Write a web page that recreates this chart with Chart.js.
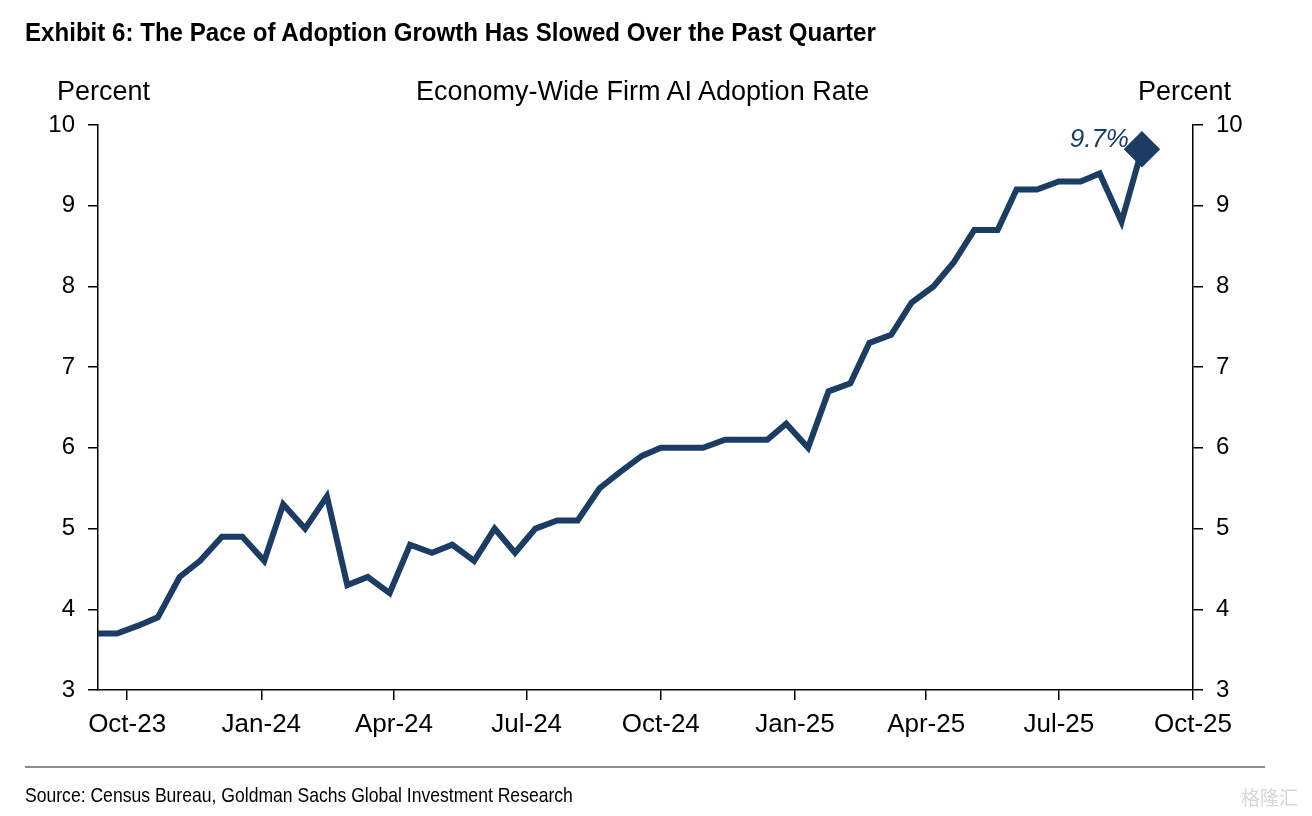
<!DOCTYPE html>
<html>
<head>
<meta charset="utf-8">
<script src="https://cdn.jsdelivr.net/npm/chart.js@4.4.1/dist/chart.umd.min.js"></script>
<style>
  body { margin: 0; background: #fff; }
  #wrap { position: relative; width: 1312px; height: 816px; overflow: hidden; }
  #wrap canvas { position: absolute; left: 0; top: 0; }
  .txt { position: absolute; white-space: nowrap; color: #000; }
  .narrow { font-family: "Liberation Sans", Arial, sans-serif; transform-origin: 0 50%; }
  .plain { font-family: "Liberation Sans", Arial, sans-serif; font-size: 27px; }
  #title { left: 25px; top: 17px; font-size: 26px; font-weight: bold; }
  #source { left: 25px; top: 783px; font-size: 21px; }
  #rule { position: absolute; left: 25px; top: 766px; width: 1240px; height: 2px; background: #8c8c8c; }
  #mark { right: 14px; top: 783px; font-family: "Noto Sans CJK SC", sans-serif; font-size: 19px; color: #d6d6d6; }
</style>
</head>
<body>
<div id="wrap">
  <canvas id="adoptionChart" width="1312" height="816"></canvas>
  <div class="txt narrow" id="title">Exhibit 6: The Pace of Adoption Growth Has Slowed Over the Past Quarter</div>
  <div class="txt plain" style="left:57px; top:76px;">Percent</div>
  <div class="txt plain" style="left:416px; top:76px;">Economy-Wide Firm AI Adoption Rate</div>
  <div class="txt plain" style="left:1138px; top:76px;">Percent</div>
  <div id="rule"></div>
  <div class="txt narrow" id="source">Source: Census Bureau, Goldman Sachs Global Investment Research</div>
  <div class="txt" id="mark">格隆汇</div>
</div>
<script>
// survey dates (roughly biweekly) and adoption rate, percent
var surveyDates = [
  '2023-09-11', '2023-09-24', '2023-10-09', '2023-10-22', '2023-11-06', '2023-11-20',
  '2023-12-05', '2023-12-19', '2024-01-03', '2024-01-16', '2024-01-31', '2024-02-15',
  '2024-02-29', '2024-03-14', '2024-03-29', '2024-04-12', '2024-04-27', '2024-05-11',
  '2024-05-26', '2024-06-09', '2024-06-23', '2024-07-07', '2024-07-22', '2024-08-05',
  '2024-08-20', '2024-09-03', '2024-09-18', '2024-10-01', '2024-10-16', '2024-10-30',
  '2024-11-14', '2024-11-27', '2024-12-13', '2024-12-26', '2025-01-10', '2025-01-24',
  '2025-02-08', '2025-02-21', '2025-03-08', '2025-03-22', '2025-04-06', '2025-04-20',
  '2025-05-04', '2025-05-20', '2025-06-02', '2025-06-16', '2025-07-01', '2025-07-16',
  '2025-07-29', '2025-08-13', '2025-08-27'
];
var adoptionRate = [
  3.7, 3.7, 3.8, 3.9, 4.4, 4.6,
  4.9, 4.9, 4.6, 5.3, 5.0, 5.4,
  4.3, 4.4, 4.2, 4.8, 4.7, 4.8,
  4.6, 5.0, 4.7, 5.0, 5.1, 5.1,
  5.5, 5.7, 5.9, 6.0, 6.0, 6.0,
  6.1, 6.1, 6.1, 6.3, 6.0, 6.7,
  6.8, 7.3, 7.4, 7.8, 8.0, 8.3,
  8.7, 8.7, 9.2, 9.2, 9.3, 9.3,
  9.4, 8.8, 9.7
];
var tickDates = ['2023-10-01', '2024-01-01', '2024-04-01', '2024-07-01', '2024-10-01',
  '2025-01-01', '2025-04-01', '2025-07-01', '2025-10-01'];
var tickLabels = ['Oct-23', 'Jan-24', 'Apr-24', 'Jul-24', 'Oct-24',
  'Jan-25', 'Apr-25', 'Jul-25', 'Oct-25'];

var lineColor = '#1c3d63';

function toTime(s) {
  var p = s.split('-');
  return Date.UTC(+p[0], +p[1] - 1, +p[2]);
}

// no narrow face installed, so squeeze the regular one to the width it should have
function squeeze(id, w) {
  var el = document.getElementById(id);
  el.style.transform = 'scaleX(' + (w / el.offsetWidth) + ')';
}
squeeze('title', 851);
squeeze('source', 548);

var points = [];
for (var i = 0; i < surveyDates.length; i++) {
  points.push({ x: toTime(surveyDates[i]), y: adoptionRate[i] });
}
var tickValues = tickDates.map(toTime);

// only the latest reading gets a diamond marker
var radii = adoptionRate.map(function (v, i) { return i === adoptionRate.length - 1 ? 14 : 0; });

Chart.defaults.font.family = '"Liberation Sans", Arial, sans-serif';
Chart.defaults.font.size = 24;
Chart.defaults.color = '#000';

// writes the last value next to the marker
var lastLabel = {
  id: 'lastLabel',
  afterDatasetsDraw: function (chart) {
    var last = points[points.length - 1];
    var px = chart.scales.x.getPixelForValue(last.x);
    var py = chart.scales.y.getPixelForValue(last.y);
    var ctx = chart.ctx;
    ctx.save();
    ctx.font = 'italic 26px "Liberation Sans", Arial, sans-serif';
    ctx.fillStyle = lineColor;
    ctx.textAlign = 'right';
    ctx.textBaseline = 'middle';
    ctx.fillText(last.y.toFixed(1) + '%', px - 13, py - 9);
    ctx.restore();
  }
};

function yAxis(pos, width) {
  return {
    type: 'linear',
    position: pos,
    min: 3,
    max: 10,
    ticks: { stepSize: 1, padding: 13 },
    grid: { drawOnChartArea: false, drawTicks: true, tickLength: 10, color: '#000', lineWidth: 1.5 },
    border: { display: true, color: '#000', width: 1.5 },
    afterFit: function (scale) { scale.width = width; }
  };
}

new Chart(document.getElementById('adoptionChart'), {
  type: 'line',
  data: {
    datasets: [{
      label: 'Economy-Wide Firm AI Adoption Rate',
      data: points,
      borderColor: lineColor,
      backgroundColor: lineColor,
      borderWidth: 6,
      borderJoinStyle: 'miter',
      tension: 0,
      pointStyle: 'rectRot',
      pointRadius: radii,
      pointHoverRadius: radii,
      yAxisID: 'y'
    }]
  },
  options: {
    responsive: false,
    animation: false,
    layout: { padding: { top: 125, left: 0, right: 0, bottom: 0 } },
    plugins: { legend: { display: false }, tooltip: { enabled: false } },
    scales: {
      x: {
        type: 'linear',
        min: toTime('2023-09-11'),
        max: toTime('2025-10-01'),
        afterBuildTicks: function (scale) {
          scale.ticks = tickValues.map(function (v) { return { value: v }; });
        },
        ticks: {
          autoSkip: false,
          maxRotation: 0,
          padding: 9,
          font: { size: 26 },
          callback: function (value) {
            var k = tickValues.indexOf(value);
            return k >= 0 ? tickLabels[k] : '';
          }
        },
        grid: { drawOnChartArea: false, drawTicks: true, tickLength: 10, color: '#000', lineWidth: 1.5 },
        border: { display: true, color: '#000', width: 1.5 },
        afterFit: function (scale) { scale.height = 126; }
      },
      y: yAxis('left', 98),
      y2: yAxis('right', 119)
    }
  },
  plugins: [lastLabel]
});
</script>
</body>
</html>
